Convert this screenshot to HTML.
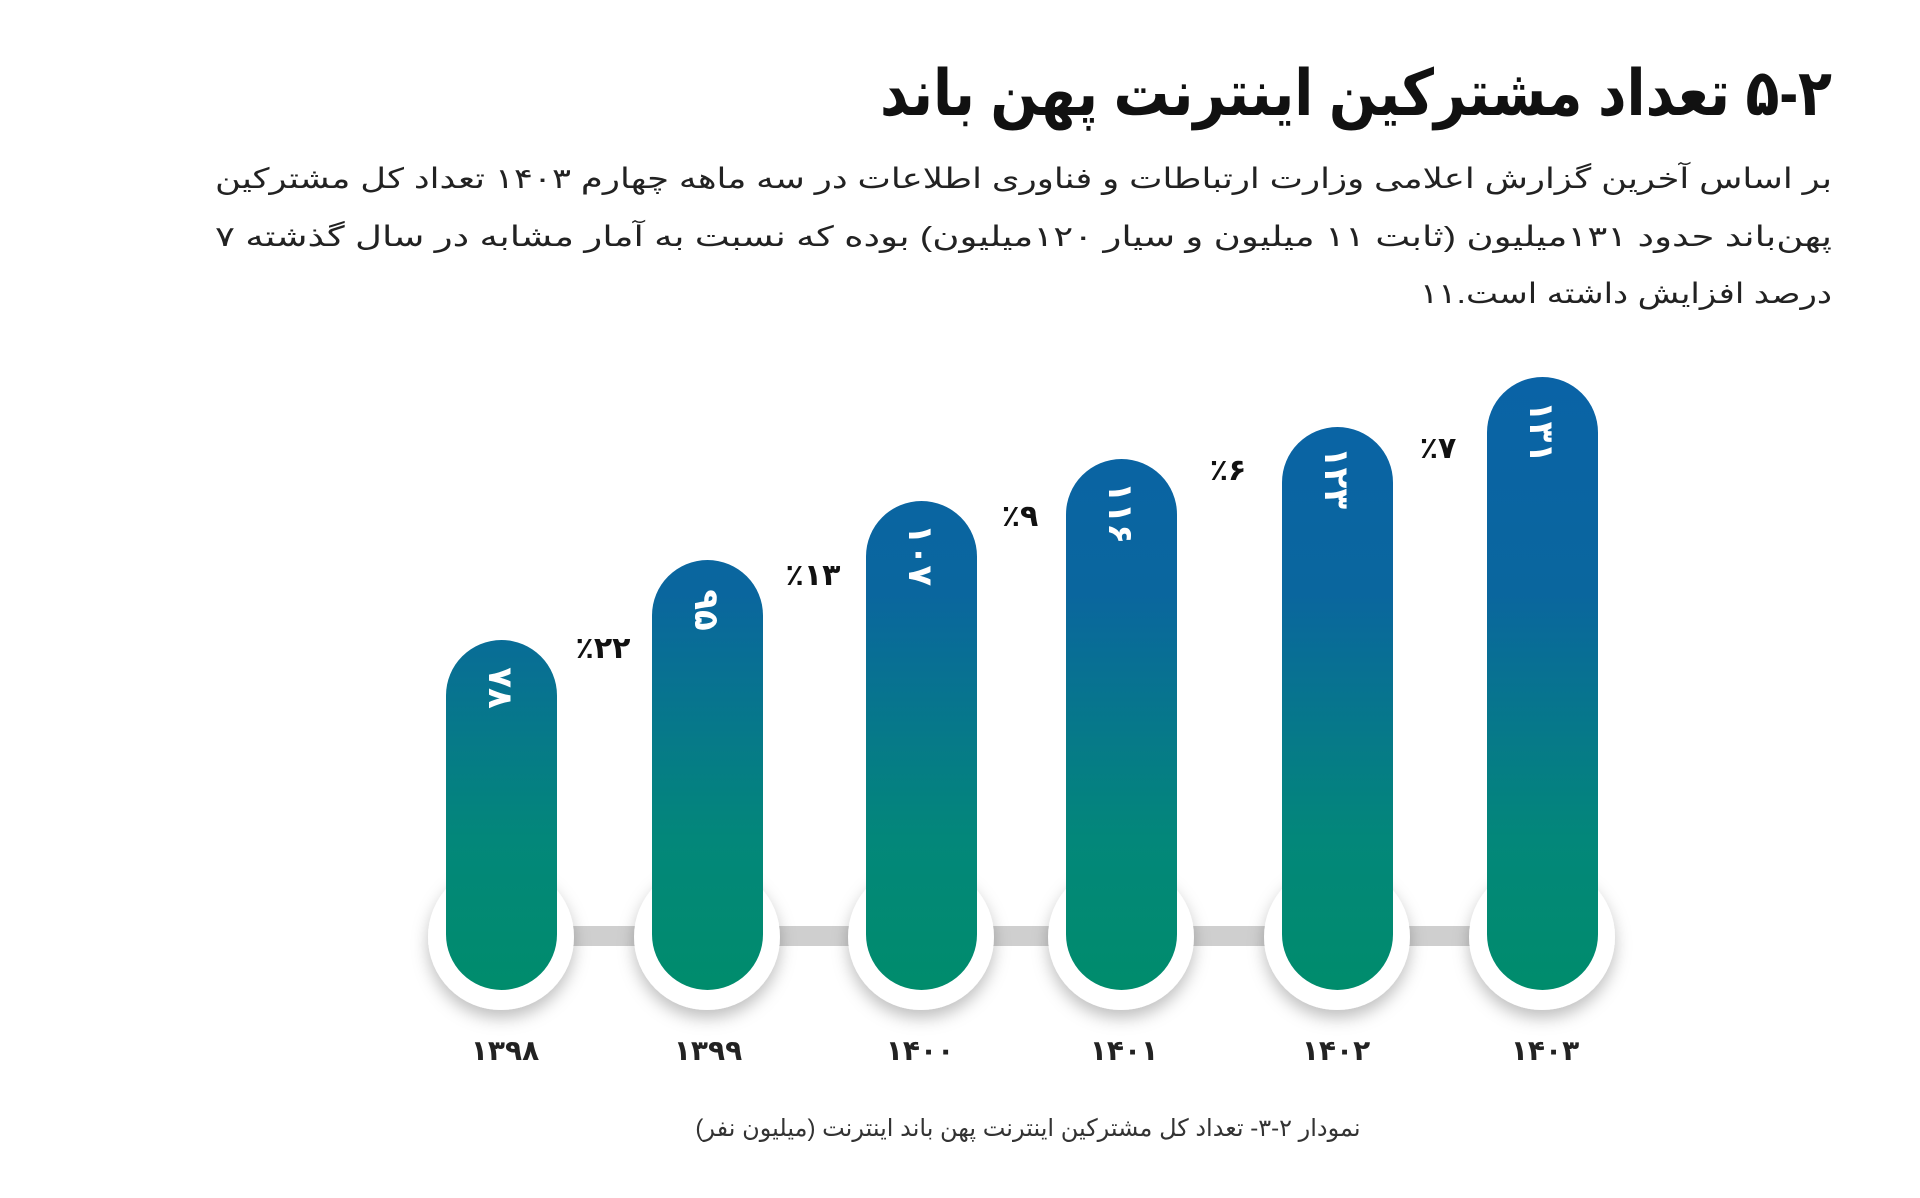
<!DOCTYPE html>
<html><head><meta charset="utf-8"><style>
body{margin:0;background:#fff;width:1920px;height:1193px;overflow:hidden}
</style></head><body>
<svg width="1920" height="1193" viewBox="0 0 1920 1193" xmlns="http://www.w3.org/2000/svg" font-family="Liberation Sans, Noto Sans CJK SC, DejaVu Sans, sans-serif">
<defs>
<linearGradient id="g" gradientUnits="userSpaceOnUse" x1="0" y1="380" x2="0" y2="990">
<stop offset="0" stop-color="#0a63a6"/><stop offset="0.35" stop-color="#0a669e"/><stop offset="0.75" stop-color="#03877a"/><stop offset="1" stop-color="#008c6c"/></linearGradient>
<filter id="sh" x="-30%" y="-30%" width="160%" height="170%"><feDropShadow dx="0" dy="8" stdDeviation="8" flood-color="#000" flood-opacity="0.25"/></filter>
</defs>
<text x="1832" y="115" text-anchor="start" direction="rtl" font-size="64" font-weight="bold" fill="#111" textLength="952" lengthAdjust="spacingAndGlyphs">۵-۲ تعداد مشترکین اینترنت پهن باند</text>
<g font-size="28" fill="#222" direction="rtl" text-anchor="start">
<text x="1832" y="188" textLength="1617" lengthAdjust="spacingAndGlyphs">بر اساس آخرین گزارش اعلامی وزارت ارتباطات و فناوری اطلاعات در سه ماهه چهارم ۱۴۰۳ تعداد کل مشترکین</text>
<text x="1832" y="246" textLength="1617" lengthAdjust="spacingAndGlyphs">پهن‌باند حدود ۱۳۱میلیون (ثابت ۱۱ میلیون و سیار ۱۲۰میلیون) بوده که نسبت به آمار مشابه در سال گذشته ۷</text>
<text x="1832" y="303" textLength="412" lengthAdjust="spacingAndGlyphs">درصد افزایش داشته است.۱۱</text>
</g>
<rect x="500" y="926" width="1042" height="20" fill="#cfcfcf"/>
<g fill="#fff" filter="url(#sh)">
<circle cx="501" cy="937" r="73"/><circle cx="707" cy="937" r="73"/><circle cx="921" cy="937" r="73"/><circle cx="1121" cy="937" r="73"/><circle cx="1337" cy="937" r="73"/><circle cx="1542" cy="937" r="73"/>
</g>
<g fill="url(#g)">
<rect x="446" y="640" width="111" height="350" rx="55.5"/>
<rect x="652" y="560" width="111" height="430" rx="55.5"/>
<rect x="866" y="501" width="111" height="489" rx="55.5"/>
<rect x="1066" y="459" width="111" height="531" rx="55.5"/>
<rect x="1282" y="427" width="111" height="563" rx="55.5"/>
<rect x="1487" y="377" width="111" height="613" rx="55.5"/>
</g>
<g fill="#fff" font-size="34" font-weight="bold" text-anchor="middle">
<text transform="translate(489,688) rotate(90)">۷۸</text>
<text transform="translate(695,610) rotate(90)">۹۵</text>
<text transform="translate(909,555) rotate(90)">۱۰۷</text>
<text transform="translate(1109,513) rotate(90)">۱۱۶</text>
<text transform="translate(1325,478) rotate(90)">۱۲۳</text>
<text transform="translate(1530,432) rotate(90)">۱۳۱</text>
</g>
<g fill="#111" font-size="30" font-weight="bold" text-anchor="middle">
<text x="603" y="658">٪۲۲</text>
<text x="813" y="585">٪۱۳</text>
<text x="1020" y="526">٪۹</text>
<text x="1228" y="480">٪۶</text>
<text x="1438" y="458">٪۷</text>
</g>
<g fill="#222" font-size="28" font-weight="bold" text-anchor="middle">
<text x="505" y="1060">۱۳۹۸</text>
<text x="708" y="1060">۱۳۹۹</text>
<text x="920" y="1060">۱۴۰۰</text>
<text x="1124" y="1060">۱۴۰۱</text>
<text x="1336" y="1060">۱۴۰۲</text>
<text x="1545" y="1060">۱۴۰۳</text>
</g>
<text x="1028" y="1136" text-anchor="middle" direction="rtl" font-size="24" fill="#333">نمودار ۲-۳- تعداد کل مشترکین اینترنت پهن باند اینترنت (میلیون نفر)</text>
</svg>
</body></html>
